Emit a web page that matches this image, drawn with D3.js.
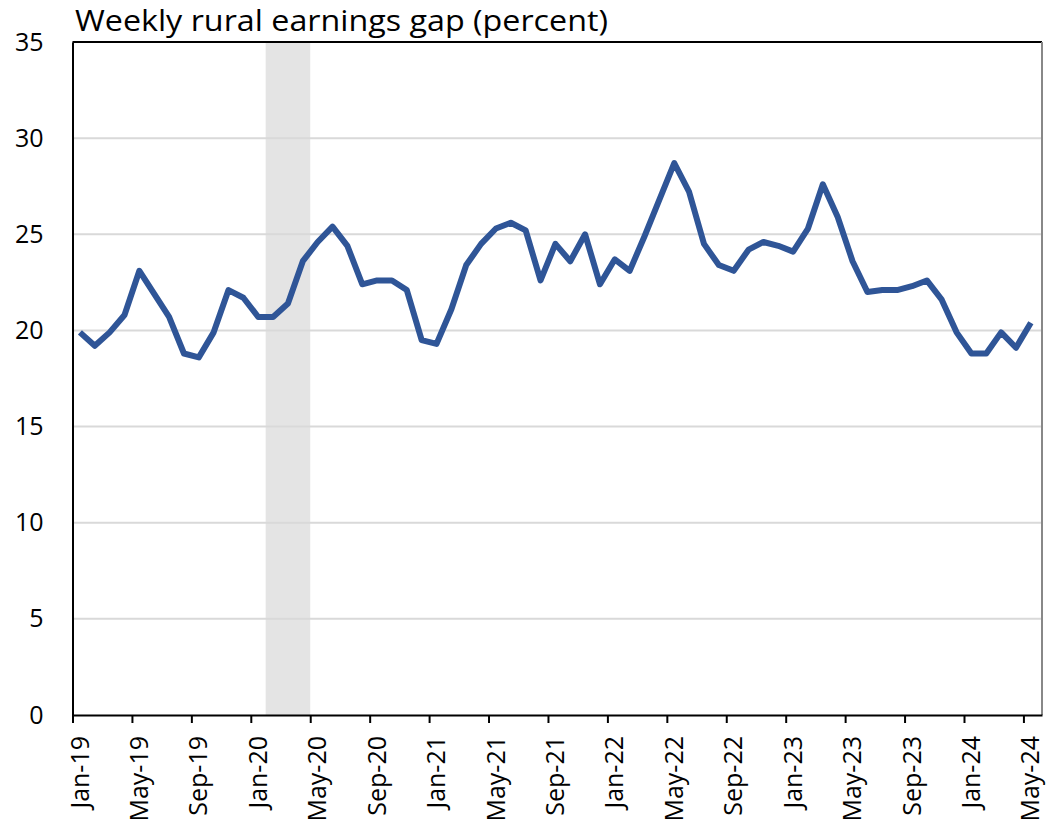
<!DOCTYPE html>
<html>
<head>
<meta charset="utf-8">
<script src="https://cdn.jsdelivr.net/npm/d3@7"></script>
<style>
  body { margin: 0; background: #fff; }
  svg { font-family: 'Open Sans', sans-serif; }
</style>
</head>
<body>
<svg id="chart" width="1046" height="827"></svg>
<script>
// month labels on the axis (every 4th month)
const tickLabels = ['Jan-19', 'May-19', 'Sep-19', 'Jan-20', 'May-20', 'Sep-20', 'Jan-21', 'May-21',
  'Sep-21', 'Jan-22', 'May-22', 'Sep-22', 'Jan-23', 'May-23', 'Sep-23', 'Jan-24', 'May-24'];

// monthly gap, Jan-19 .. May-24
const gapValues = [
  19.9, 19.2, 19.9, 20.8, 23.1, 21.9, 20.7, 18.8, 18.6, 19.9, 22.1, 21.7,
  20.7, 20.7, 21.4, 23.6, 24.6, 25.4, 24.4, 22.4, 22.6, 22.6, 22.1, 19.5,
  19.3, 21.1, 23.4, 24.5, 25.3, 25.6, 25.2, 22.6, 24.5, 23.6, 25.0, 22.4,
  23.7, 23.1, 24.9, 26.8, 28.7, 27.2, 24.5, 23.4, 23.1, 24.2, 24.6, 24.4,
  24.1, 25.3, 27.6, 25.9, 23.6, 22.0, 22.1, 22.1, 22.3, 22.6, 21.6, 19.9,
  18.8, 18.8, 19.9, 19.1, 20.4
];

// recession shading, month index start/end
const recession = [13, 16];

const yTicks = [0, 5, 10, 15, 20, 25, 30, 35];

const svg = d3.select('#chart');
const padL = 72.5, padR = 1042, padT = 42, padB = 715;

const x = d3.scaleLinear().domain([0, 65.25]).range([padL, padR]);
const y = d3.scaleLinear().domain([0, 35]).range([padB, padT]);

// shading
svg.append('rect')
  .attr('x', x(recession[0]))
  .attr('y', padT)
  .attr('width', x(recession[1]) - x(recession[0]))
  .attr('height', padB - padT)
  .style('fill', '#e4e4e4');

// gridlines
svg.append('g')
  .selectAll('line')
  .data(yTicks.filter((d) => d > 0 && d < 35))
  .enter()
  .append('line')
  .attr('x1', padL)
  .attr('x2', padR)
  .attr('y1', (d) => y(d))
  .attr('y2', (d) => y(d))
  .style('stroke', '#d9d9d9')
  .style('stroke-width', 2);

// frame: top black, right grey
svg.append('line')
  .attr('x1', padL).attr('x2', padR)
  .attr('y1', padT).attr('y2', padT)
  .style('stroke', '#000').style('stroke-width', 2);
svg.append('line')
  .attr('x1', padR).attr('x2', padR)
  .attr('y1', padT).attr('y2', padB)
  .style('stroke', '#888').style('stroke-width', 2);

// y axis
const yAxis = d3.axisLeft(y).tickValues(yTicks).tickSize(0).tickPadding(29);
const yG = svg.append('g')
  .attr('transform', `translate(${padL}, 0)`)
  .call(yAxis);
yG.select('.domain').style('stroke', '#000').style('stroke-width', 2);
yG.selectAll('text')
  .style('font-family', "'Open Sans', sans-serif")
  .style('font-size', '25px')
  .style('fill', '#000');

// x axis
const xAxis = d3.axisBottom(x)
  .tickValues(tickLabels.map((d, i) => i * 4))
  .tickFormat((d, i) => tickLabels[i])
  .tickSize(8)
  .tickSizeOuter(0);
const xG = svg.append('g')
  .attr('transform', `translate(0, ${padB})`)
  .call(xAxis);
xG.select('.domain').style('stroke', '#000').style('stroke-width', 2);
xG.selectAll('.tick line').style('stroke', '#000').style('stroke-width', 2);
xG.selectAll('text')
  .style('font-family', "'Open Sans', sans-serif")
  .style('font-size', '25px')
  .style('fill', '#000')
  .attr('text-anchor', 'end')
  .attr('dy', 0)
  .attr('transform', 'translate(0, 21) rotate(-90)')
  .attr('x', 0)
  .attr('y', 15.5);

// series line
const line = d3.line()
  .x((d, i) => x(i + 0.5))
  .y((d) => y(d));
svg.append('path')
  .datum(gapValues)
  .attr('d', line)
  .style('fill', 'none')
  .style('stroke', '#2f5597')
  .style('stroke-width', 6)
  .style('stroke-linejoin', 'round');

// title
svg.append('text')
  .attr('x', 75)
  .attr('y', 31)
  .attr('textLength', 533)
  .attr('lengthAdjust', 'spacingAndGlyphs')
  .text('Weekly rural earnings gap (percent)')
  .style('font-size', '29px')
  .style('fill', '#000');
</script>
</body>
</html>
